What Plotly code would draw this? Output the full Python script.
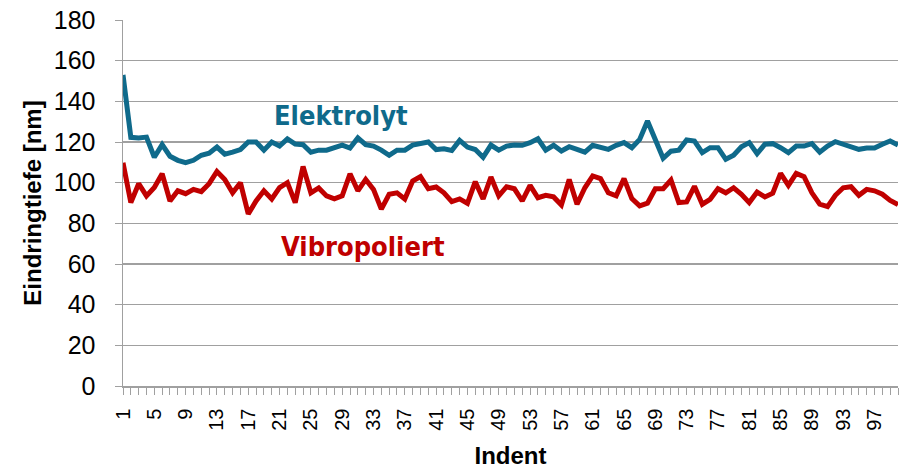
import plotly.graph_objects as go

indent = list(range(1, 101))

elektrolyt = [153, 122.3, 122, 122.4, 112.5, 118.7, 113, 111, 109.8, 111,
              113.5, 114.5, 117.5, 114, 115, 116.3, 120, 120, 116, 120,
              118, 121.5, 119, 118.7, 115, 116, 116, 117, 118.5, 117,
              122, 118.7, 118, 116, 113.5, 116, 116, 118.5, 119, 120,
              116.3, 116.7, 115.8, 120.8, 117.5, 116.3, 112.5, 118.5, 116, 118,
              118.5, 118.4, 119.7, 121.6, 116, 118.4, 115.6, 117.7, 116.4, 115,
              118.4, 117.7, 116.4, 118.4, 119.7, 117.2, 121.3, 130.3, 121, 112,
              115.5, 116, 121, 120.5, 114.8, 117.2, 117.2, 111.5, 113.5, 117.7,
              119.7, 114.3, 118.9, 119.2, 117.2, 114.8, 118, 118, 119.2, 115,
              118, 120.2, 118.9, 117.7, 116.4, 117, 117, 118.9, 120.5, 118.5]

vibropoliert = [109.8, 90.2, 99.5, 93.5, 97.6, 104.4, 91, 96, 94.6, 96.7,
                95.6, 99.5, 105.5, 101.6, 95, 100, 84.6, 91, 96, 92,
                97.6, 100, 90.2, 108, 95, 97.4, 93.5, 92, 93.5, 104.4,
                96, 101.6, 96.7, 87, 94.3, 95, 92, 100.8, 103, 97,
                97.9, 95, 90.7, 92, 89.8, 100.5, 92, 102.8, 93.5, 98,
                97, 91, 98.7, 92.6, 93.8, 93, 89, 101.6, 89.4, 97.5,
                103.3, 102, 95, 93.5, 102, 92.2, 88.6, 89.9, 97, 97,
                101.3, 90.2, 90.5, 98.2, 89.4, 91.8, 97, 95, 97.5, 94.3,
                90.2, 95.4, 93, 94.8, 104.6, 98.7, 104.6, 103, 95, 89.4,
                88.2, 93.8, 97.5, 98, 93.8, 96.7, 96, 94.3, 91.3, 89.2]

x_tickvals = list(range(1, 100, 4))
y_tickvals = list(range(0, 181, 20))

BLUE = "#0F6A8B"
RED = "#C00000"
GRID = "#A0A0A0"
LABEL_FONT = "DejaVu Sans Condensed, Liberation Sans Narrow, Arial Narrow, sans-serif"

fig = go.Figure()
fig.add_trace(go.Scatter(x=indent, y=elektrolyt, mode="lines", name="Elektrolyt",
                         line=dict(color=BLUE, width=5), cliponaxis=False))
fig.add_trace(go.Scatter(x=indent, y=vibropoliert, mode="lines", name="Vibropoliert",
                         line=dict(color=RED, width=5), cliponaxis=False))

fig.add_annotation(x=28.8, y=133, xref="x", yref="y", text="<b>Elektrolyt</b>",
                   showarrow=False, yanchor="middle", xanchor="center",
                   font=dict(family=LABEL_FONT, size=27, color=BLUE))
fig.add_annotation(x=31.7, y=68.5, xref="x", yref="y", text="<b>Vibropoliert</b>",
                   showarrow=False, yanchor="middle", xanchor="center",
                   font=dict(family=LABEL_FONT, size=27, color=RED))

fig.update_layout(
    width=899, height=469,
    margin=dict(l=122.5, r=1, t=20, b=83, autoexpand=False),
    plot_bgcolor="white", paper_bgcolor="white",
    showlegend=False,
    font=dict(family="Liberation Sans, Arial, sans-serif", color="black"),
)
fig.update_xaxes(
    range=[1, 100], tickmode="array", tickvals=x_tickvals,
    ticktext=[str(v) for v in x_tickvals], tickangle=-90,
    tickfont=dict(size=20), showgrid=False, zeroline=False,
    showline=True, linecolor=GRID, linewidth=1.5,
    ticks="outside", ticklen=7, tickcolor=GRID, ticklabelstandoff=6,
    ticklabeloverflow="allow",
    minor=dict(ticks="outside", dtick=1, tick0=1, ticklen=7, tickcolor=GRID, showgrid=False),
    title=dict(text="<b>Indent</b>", font=dict(size=24), standoff=18),
)
fig.update_yaxes(
    range=[0, 180.01], tickmode="array", tickvals=y_tickvals,
    tickfont=dict(size=25), showgrid=True, gridcolor=GRID, gridwidth=1.5,
    zeroline=False, showline=True, linecolor=GRID, linewidth=1.5,
    ticks="outside", ticklen=7, tickcolor=GRID, ticklabelstandoff=14,
    ticklabeloverflow="allow",
    title=dict(text="<b>Eindringtiefe [nm]</b>", font=dict(size=24), standoff=5),
)

fig.write_html(
    "out.html",
    config={"displayModeBar": False, "staticPlot": True},
    post_script="document.body.style.margin='0';document.body.style.overflow='hidden';",
)
